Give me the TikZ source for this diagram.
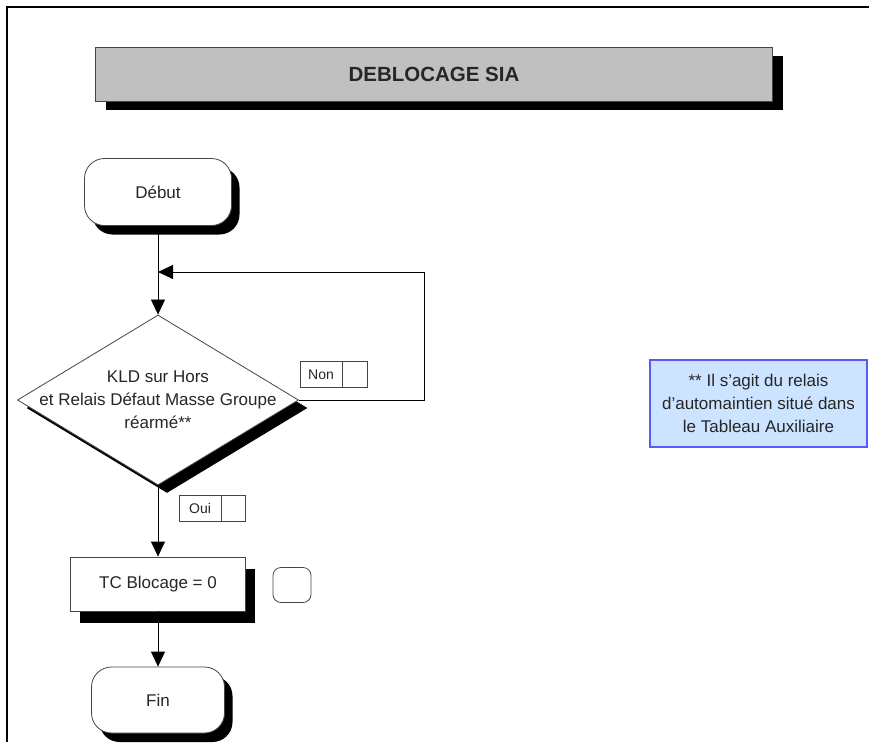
\documentclass[tikz,border=0pt]{standalone}
\usepackage{fontspec}
\setmainfont{Liberation Sans}
\usepackage{tikz}
\usetikzlibrary{positioning,shapes.geometric,shadows,arrows.meta}
\definecolor{titlegray}{RGB}{192,192,192}
\definecolor{noteblue}{RGB}{204,228,255}
\definecolor{noteline}{RGB}{90,90,250}
\definecolor{boxline}{RGB}{70,70,70}
\newcommand\bodyfont{\fontsize{17}{23}\selectfont}
\newcommand\tagfont{\fontsize{14}{16}\selectfont}
\tikzset{
  shadowed/.style 2 args={drop shadow={shadow xshift=#1,shadow yshift=-#2,fill=black,opacity=1}},
  box/.style={draw=boxline, line width=0.8pt, fill=white, inner sep=0pt, font=\bodyfont, text=black!85},
  title/.style={box, fill=titlegray, minimum width=677pt, minimum height=54pt, font=\bfseries\fontsize{20.5}{24}\selectfont, shadowed={10pt}{9pt}},
  terminal/.style={box, rounded corners=20pt, minimum height=67pt, shadowed={8pt}{9pt}},
  decision/.style={box, diamond, minimum width=281pt, minimum height=170pt, shadowed={9pt}{8pt}},
  action/.style={box, minimum width=175pt, minimum height=54pt, shadowed={9pt}{12pt}},
  tag/.style={box, minimum height=26pt, font=\tagfont},
  note/.style={box, draw=noteline, line width=1.2pt, fill=noteblue, minimum width=217pt, minimum height=87pt, align=center},
  line/.style={line width=0.8pt, black},
  flow/.style={line, -{Triangle[length=15pt,width=14pt]}}
}
\begin{document}
\begin{tikzpicture}[x=1pt,y=-1pt]
  \useasboundingbox (0,0) rectangle (869,742);
  \def\midx{158} % main column

  % page frame
  \draw[line width=1.5pt] (7,742) |- (869,7);

  \node[title] (head) at (434,74) {DEBLOCAGE SIA};

  \node[terminal, minimum width=147pt] (debut) at (\midx,192) {Début};
  \node[decision] (cond) at (\midx,400) {};
  \node[align=center, font=\bodyfont, text=black!85] (condtext) at (cond.center)
    {KLD sur Hors\\et Relais Défaut Masse Groupe\\réarmé**};
  \node[action] (tc) at (\midx,584) {TC Blocage = 0};
  \node[box, rounded corners=8pt, minimum width=38pt, minimum height=35pt] (tcmark) at (292,585) {};
  \node[terminal, minimum width=133pt, minimum height=66pt] (fin) at (\midx,700) {Fin};

  % answer tags
  \node[tag, minimum width=42pt] (non) at (321,374.5) {Non};
  \node[tag, minimum width=25pt, right=0pt of non] (nonbox) {};
  \node[tag, minimum width=42pt] (oui) at (200,508.5) {Oui};
  \node[tag, minimum width=24pt, right=0pt of oui] (ouibox) {};

  \node[note] (remark) at (758.5,403.5) {** Il s'agit du relais\\d'automaintien situé dans\\le Tableau Auxiliaire};

  % connectors
  \coordinate (join) at (\midx,272);
  \coordinate (turn) at (424,272);
  \draw[line] (debut) -- (join);
  \draw[flow] (join) -- (cond);
  \draw[flow] (cond.east) -| (turn) -- (join);
  \draw[flow] (cond) -- (tc);
  \draw[flow] (tc) -- (fin);
\end{tikzpicture}
\end{document}
